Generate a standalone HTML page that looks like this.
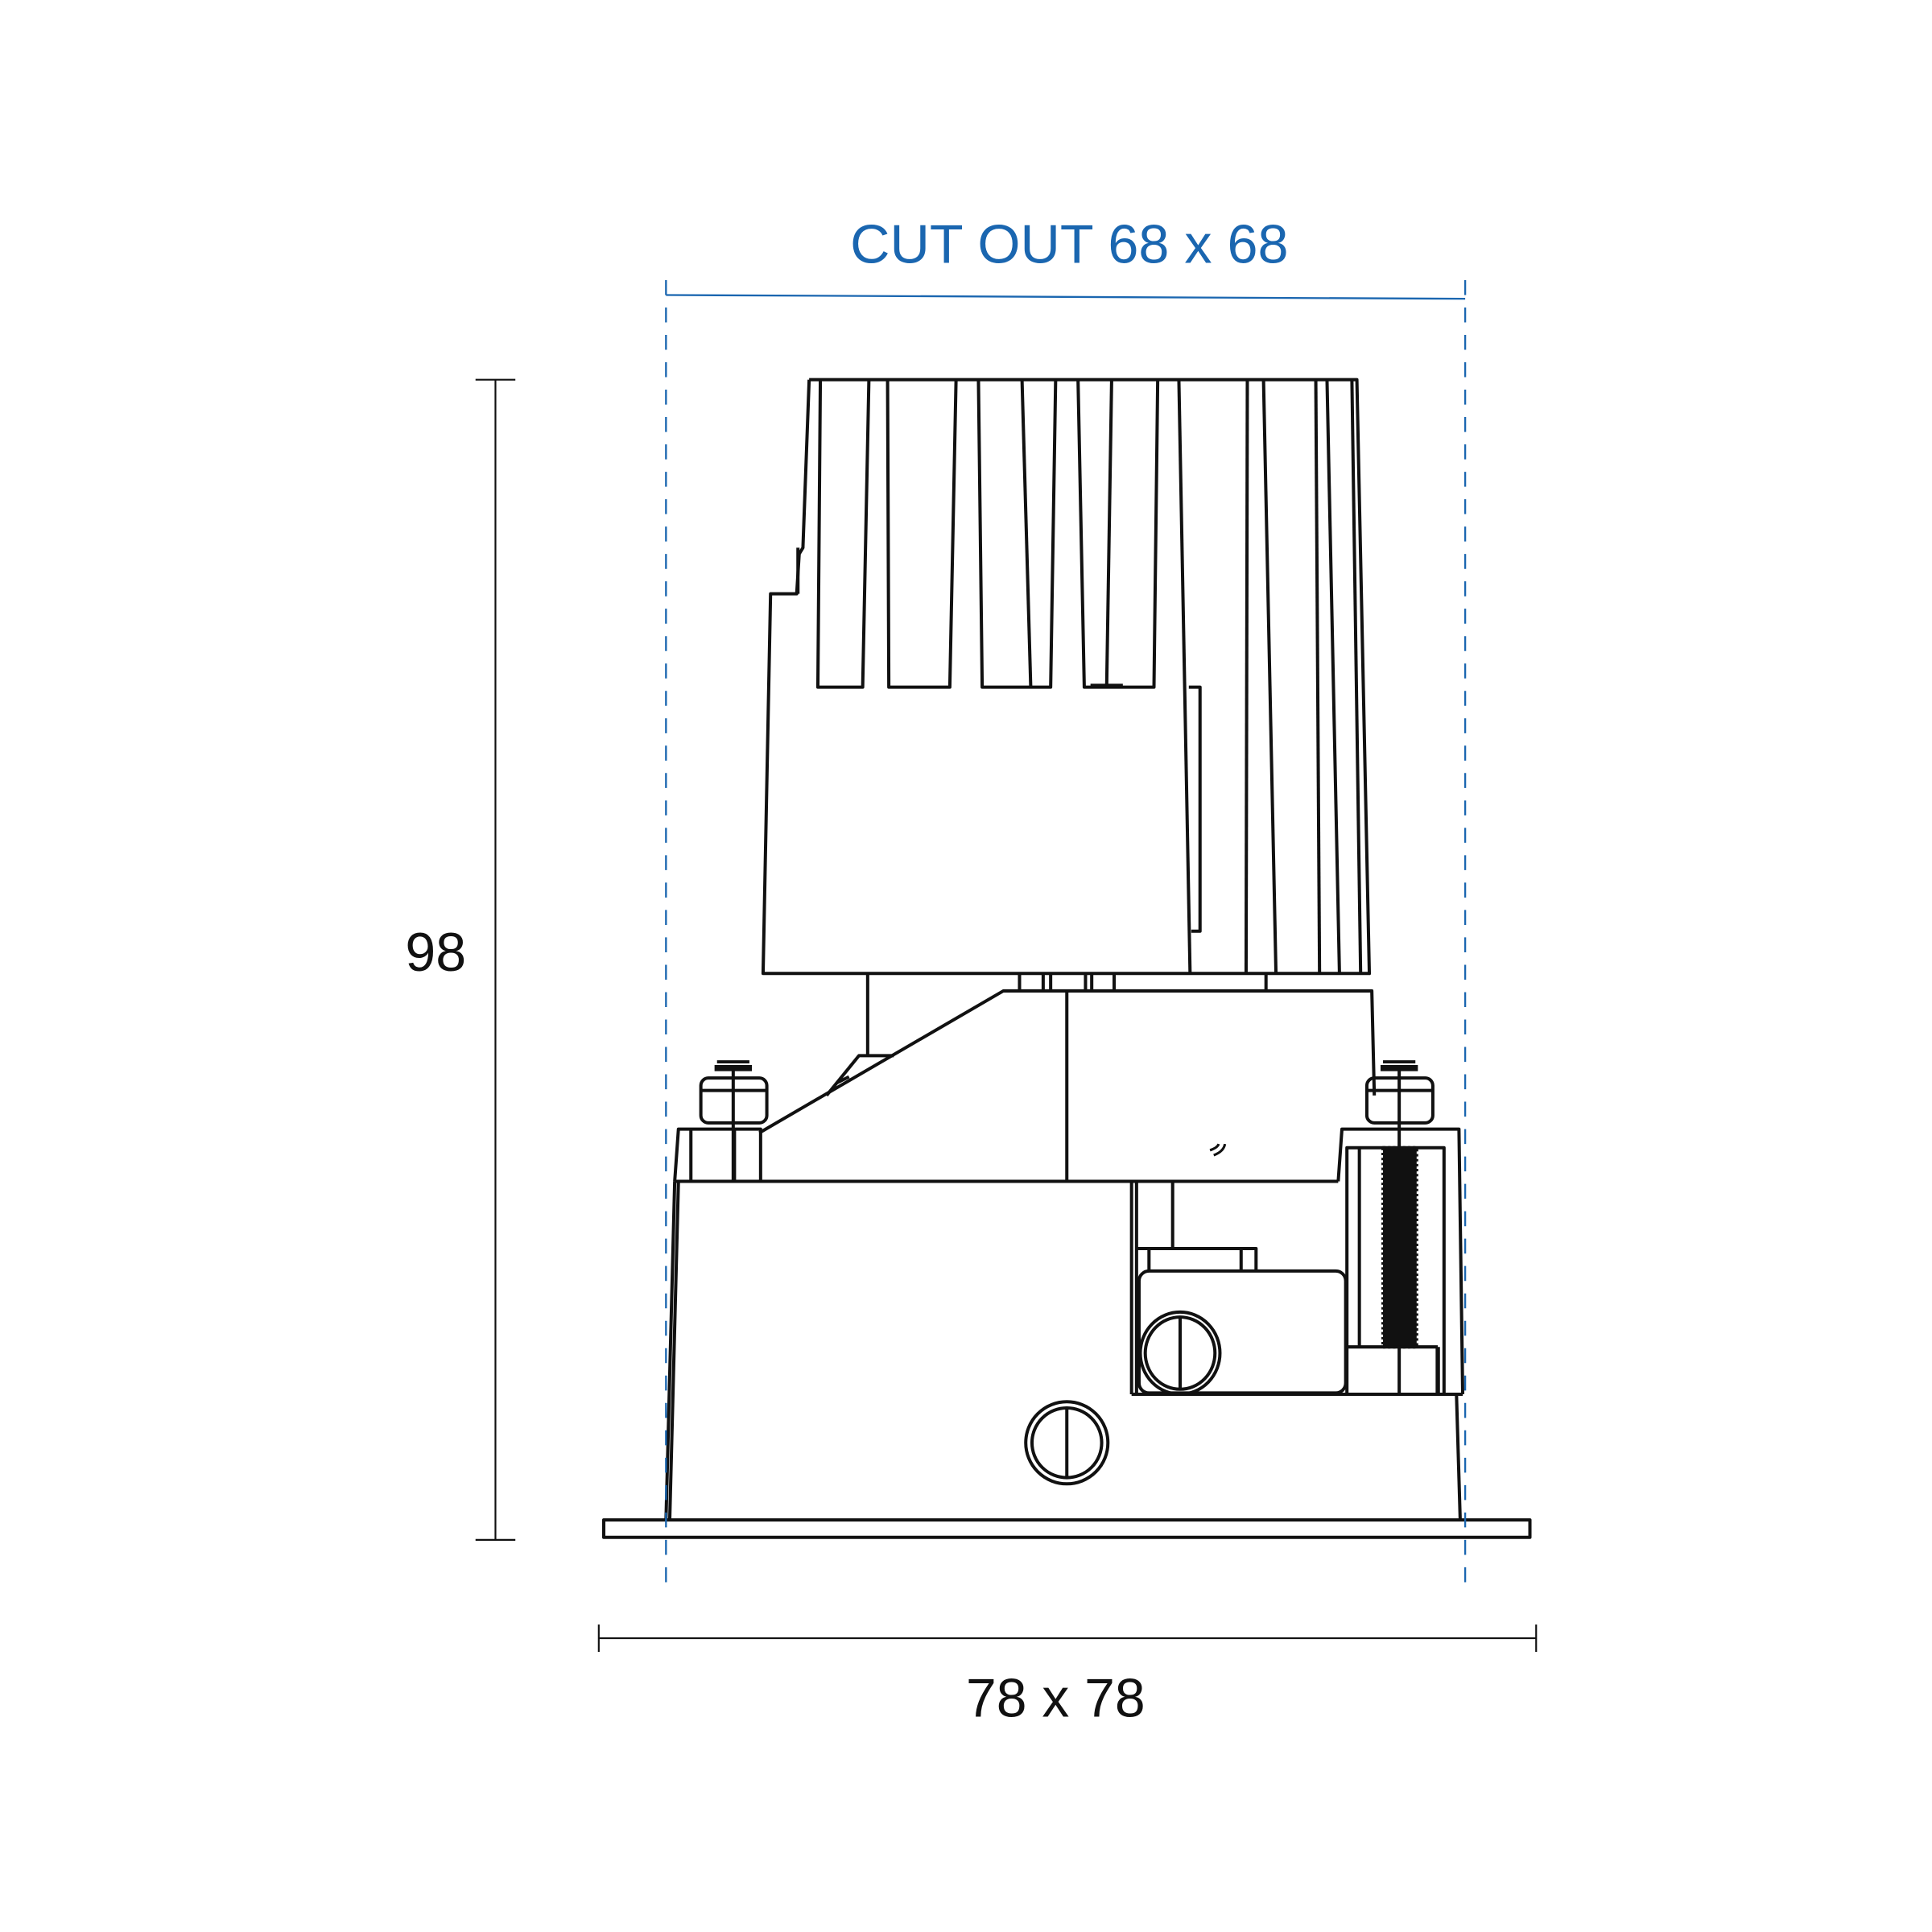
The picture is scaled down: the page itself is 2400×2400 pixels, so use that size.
<!DOCTYPE html>
<html><head><meta charset="utf-8"><style>html,body{margin:0;padding:0;background:#fff}svg{display:block}</style></head>
<body>
<svg width="2400" height="2400" viewBox="0 0 1552 1552" xmlns="http://www.w3.org/2000/svg">
<g fill="none" stroke="#111" stroke-width="2.6" stroke-linejoin="round">
<!-- left dimension -->
<line x1="398" y1="305" x2="398" y2="1237" stroke-width="1.4"/>
<line x1="382" y1="305" x2="414" y2="305" stroke-width="1.4"/>
<line x1="382" y1="1237" x2="414" y2="1237" stroke-width="1.4"/>
<!-- bottom dimension -->
<line x1="481" y1="1316" x2="1234" y2="1316" stroke-width="1.4"/>
<line x1="481" y1="1305" x2="481" y2="1327" stroke-width="1.4"/>
<line x1="1234" y1="1305" x2="1234" y2="1327" stroke-width="1.4"/>
<!-- heatsink -->
<path d="M650 305 L1090 305 L1100 782 L613 782 L619 477 L640 477 L642 445 L645 440 L650 305"/>
<line x1="641" y1="477" x2="641" y2="440"/>
<path d="M659 305 L657 552 L693 552 L698 305"/>
<path d="M713 305 L714 552 L763 552 L768 305"/>
<path d="M786 305 L789 552 L844 552 L848 305"/>
<line x1="821" y1="305" x2="828" y2="552"/>
<path d="M866 305 L871 552 L927 552 L930 305"/>
<line x1="893" y1="305" x2="889" y2="552"/>
<line x1="876" y1="551" x2="902" y2="551" stroke-width="3.5"/>
<path d="M947 305 L956 782"/>
<path d="M955 552 L964 552 L964 748 L957 748"/>
<line x1="1002" y1="305" x2="1001" y2="782"/>
<line x1="1015" y1="305" x2="1025" y2="782"/>
<line x1="1057" y1="305" x2="1060" y2="782"/>
<line x1="1066" y1="305" x2="1076" y2="782"/>
<line x1="1086" y1="305" x2="1093" y2="782"/>
<!-- neck -->
<line x1="697" y1="782" x2="697" y2="848"/>
<path d="M819 782 L819 796 M838 782 L838 796 M844 782 L844 796 M872 782 L872 796 M877 782 L877 796 M895 782 L895 796 M1017 782 L1017 796"/>
<!-- middle body -->
<path d="M610 910 L806 796 L1102 796 L1104 880"/>
<path d="M1075 949 L1078 907 L1172 907 L1175 1120"/>
<line x1="857" y1="796" x2="857" y2="949"/>
<path d="M664 880 L690 848 L718 848"/>
<path d="M672 870 L682 865"/>
<path d="M542 949 L545 907 L611 907 L611 949"/>
<line x1="555" y1="907" x2="555" y2="949"/>
<line x1="590" y1="907" x2="590" y2="949"/>
<line x1="542" y1="949" x2="1075" y2="949"/>
<path d="M975 928 q8 -3 9 -9 M972 924 q6 -2 7 -5" stroke-width="2"/>
<!-- nuts -->
<g>
<rect x="563" y="866" width="53" height="36" rx="6"/>
<line x1="563" y1="876" x2="616" y2="876"/>
<line x1="589" y1="860" x2="589" y2="949"/>
<line x1="574" y1="858" x2="604" y2="858" stroke-width="5"/>
<line x1="576" y1="853" x2="602" y2="853" stroke-width="2.5"/>
</g>
<g>
<rect x="1098" y="866" width="53" height="36" rx="6"/>
<line x1="1098" y1="876" x2="1151" y2="876"/>
<line x1="1124" y1="860" x2="1124" y2="1120"/>
<line x1="1109" y1="858" x2="1139" y2="858" stroke-width="5"/>
<line x1="1111" y1="853" x2="1137" y2="853" stroke-width="2.5"/>
</g>
<!-- threaded rod -->
<rect x="1082" y="922" width="78" height="198"/>
<line x1="1092" y1="922" x2="1092" y2="1082"/>
<rect x="1111" y="922" width="27" height="160" fill="#111" stroke-dasharray="2 2"/>
<line x1="1082" y1="1082" x2="1155" y2="1082"/>
<line x1="1155" y1="1082" x2="1155" y2="1120" stroke-width="3.5"/>
<!-- lower housing -->
<path d="M545 949 L538 1221 M542 949 L535 1221"/>
<path d="M1170 1120 L1173 1221"/>
<line x1="909" y1="949" x2="909" y2="1120"/>
<line x1="913" y1="949" x2="913" y2="1120"/>
<line x1="942" y1="949" x2="942" y2="1003"/>
<path d="M913 1003 L1009 1003 L1009 1020 M923 1003 L923 1020 M997 1003 L997 1020"/>
<rect x="915" y="1021" width="166" height="98" rx="8"/>
<line x1="909" y1="1120" x2="1175" y2="1120"/>
<ellipse cx="948" cy="1087" rx="32" ry="33"/>
<ellipse cx="948" cy="1087" rx="28" ry="29"/>
<line x1="948" y1="1058" x2="948" y2="1116"/>
<ellipse cx="857" cy="1159" rx="33" ry="33"/>
<ellipse cx="857" cy="1159" rx="28" ry="28"/>
<line x1="857" y1="1131" x2="857" y2="1187"/>
<!-- flange -->
<rect x="485" y="1221" width="744" height="14"/>
</g>
<!-- cut out dashed lines -->
<g stroke="#1a66b0" stroke-width="1.5" fill="none">
<line x1="535" y1="225" x2="535" y2="1275" stroke-dasharray="12 10"/>
<line x1="1177" y1="225" x2="1177" y2="1275" stroke-dasharray="12 10"/>
<line x1="535" y1="237" x2="1177" y2="240"/>
</g>
<text x="859" y="211" text-anchor="middle" font-family="Liberation Sans, sans-serif" font-size="44" textLength="352" lengthAdjust="spacingAndGlyphs" fill="#1a66b0">CUT OUT 68 x 68</text>
<text x="350" y="780" text-anchor="middle" font-family="Liberation Sans, sans-serif" font-size="44" fill="#111">98</text>
<text x="848" y="1379" text-anchor="middle" font-family="Liberation Sans, sans-serif" font-size="44" textLength="144" lengthAdjust="spacingAndGlyphs" fill="#111">78 x 78</text>
</svg>
</body></html>
